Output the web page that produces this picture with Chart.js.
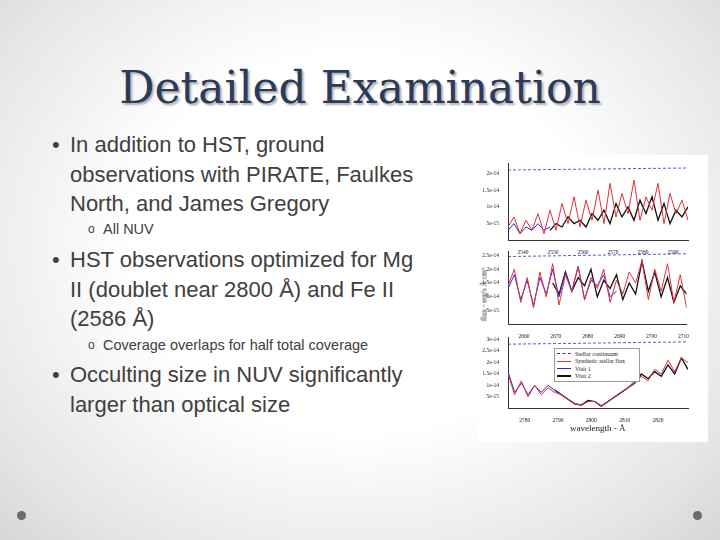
<!DOCTYPE html>
<html>
<head>
<meta charset="utf-8">
<script src="https://cdn.jsdelivr.net/npm/chart.js@4/dist/chart.umd.min.js"></script>
<style>
  body { margin: 0; }
  #slide { position: relative; width: 720px; height: 540px; overflow: hidden;
    background: radial-gradient(ellipse at 50% 45%, #ffffff 45%, #e4e4e4 85%, #d6d6d6 100%);
    font-family: "Liberation Sans", Arial, sans-serif; color: #404040; }
  h1 { position: absolute; left: 0; width: 720px; top: 62px; margin: 0; text-align: center;
    font: 44px "DejaVu Serif", serif; color: #2c3a5c; text-shadow: 2px 2px 2px #b0b0b0; }
  .b { position: absolute; left: 70px; font-size: 22px; line-height: 29.5px; }
  .b::before { content: "•"; position: absolute; left: -18px; }
  .s { position: absolute; left: 103px; font-size: 14.5px; }
  .s::before { content: "o"; position: absolute; left: -15px; font-size: 12px; top: 1px; }
  .dot { position: absolute; width: 9px; height: 9px; border-radius: 50%; background: #6a6a6a; top: 511px; }
  #fig { position: absolute; left: 478px; top: 155px; width: 230px; height: 287px; background: #fff; }
  .pan { position: absolute; left: 4px; width: 208px; }
  #ylab { position: absolute; left: -44px; top: 135px; width: 100px; text-align: center;
    transform: rotate(-90deg); font: 7.5px "Liberation Serif", serif; color: #222; }
  #xlab { position: absolute; left: 92px; top: 268px; font: 9px "Liberation Serif", serif; color: #222; }
  #leg { position: absolute; left: 76px; top: 193px; width: 80px; border: 1px solid #999; background: #fff;
    font: 6px "Liberation Serif", serif; color: #222; padding: 1px 2px; }
  #leg div { display: flex; align-items: center; height: 7.5px; }
  #leg span { display: inline-block; width: 14px; margin-right: 4px; }
</style>
</head>
<body>
<div id="slide">
  <h1>Detailed Examination</h1>
  <div class="b" style="top:130px">In addition to HST, ground<br>observations with PIRATE, Faulkes<br>North, and James Gregory</div>
  <div class="s" style="top:221px">All NUV</div>
  <div class="b" style="top:245px">HST observations optimized for Mg<br>II (doublet near 2800 Å) and Fe II<br>(2586 Å)</div>
  <div class="s" style="top:337px">Coverage overlaps for half total coverage</div>
  <div class="b" style="top:360px">Occulting size in NUV significantly<br>larger than optical size</div>
  <div class="dot" style="left:17px"></div>
  <div class="dot" style="left:693px"></div>
  <div id="fig">
    <div class="pan" style="top:4px;height:98px"><canvas id="c1"></canvas></div>
    <div class="pan" style="top:92px;height:94px"><canvas id="c2"></canvas></div>
    <div class="pan" style="top:178px;height:92px"><canvas id="c3"></canvas></div>
    <div id="ylab">flux - erg/s Å cm²</div>
    <div id="xlab">wavelength - Å</div>
    <div id="leg">
      <div><span style="border-top:1px dashed #3333aa"></span>Stellar continuum</div>
      <div><span style="border-top:1px solid #e0303a"></span>Synthetic stellar flux</div>
      <div><span style="border-top:1px solid #2a2ad0"></span>Visit 1</div>
      <div><span style="border-top:2px solid #111"></span>Visit 2</div>
    </div>
  </div>
</div>
<script>
// flux values in units of 1e-15 erg/s/Å/cm²
const wave1 = [2535,2537,2539,2541,2543,2545,2547,2549,2551,2553,2555,2557,2559,2561,2563,2565,2567,2569,2571,2573,2575,2577,2579,2581,2583,2585,2587,2589,2591,2593,2595];
const red1 = [4,7,2,6,3,8,2,9,3,11,5,13,4,12,6,15,5,17,7,14,8,18,6,13,9,17,5,14,8,12,6];
const blue1 = [3,5,2,4,3,5,3,4,null,null,null,null,null,null,null,null,null,null,null,null,null,null,null,null,null,null,null,null,null,null,null];
const black1 = [null,null,null,null,null,null,null,3,5,4,7,5,6,4,8,6,9,5,11,7,10,6,12,8,13,6,11,5,9,7,10];
const cont1 = [21,21.6];
const ticks1 = [2540,2550,2560,2570,2580,2590];

const wave2 = [2655,2657,2659,2661,2663,2665,2667,2669,2671,2673,2675,2677,2679,2681,2683,2685,2687,2689,2691,2693,2695,2697,2699,2701,2703,2705,2707,2709,2711];
const red2 = [14,20,8,17,6,19,10,22,7,18,12,21,9,17,13,20,8,16,11,19,15,23,9,20,12,22,8,18,6];
const blue2 = [13,18,9,16,7,17,11,20,10,19,12,21,9,16,14,18,10,12,null,null,null,null,null,null,null,null,null,null,null];
const black2 = [null,null,null,null,null,null,null,15,11,19,12,17,14,20,10,16,13,18,9,15,11,23,12,19,10,17,8,14,11];
const cont2 = [24.6,25.6];
const ticks2 = [2660,2670,2680,2690,2700,2710];

const wave3 = [2775,2777,2779,2781,2783,2785,2787,2789,2791,2793,2795,2797,2799,2801,2803,2805,2807,2809,2811,2813,2815,2817,2819,2821,2823,2825,2827,2829];
const red3 = [15,6,12,5,10,6,9,7,6,4,2,1.5,3,3,1,3,5,7,9,11,14,12,17,15,21,16,22,20];
const blue3 = [16,7,11,6,10,7,10,8,6,4,2,1.5,3,3,1,3,5,7,9,12,14,null,null,null,null,null,null,null];
const black3 = [null,null,null,null,null,null,null,8,6,4,2,1.5,3.5,3,1,3,5,7,9,11,15,13,16,14,19,15,22,17];
const cont3 = [28,29];
const ticks3 = [2780,2790,2800,2810,2820];

const yLabels = {5:'5e-15',10:'1e-14',15:'1.5e-14',20:'2e-14',25:'2.5e-14',30:'3e-14'};

function pts(w, v) { return w.map((x, i) => ({x: x, y: v[i]})); }

function panel(id, w, red, blue, black, cont, ticks, ymax) {
  const tickFont = {family: 'Liberation Serif', size: 5.5};
  new Chart(document.getElementById(id), {
    type: 'line',
    data: { datasets: [
      {data: pts(w, red), borderColor: '#e0303a', borderWidth: 1},
      {data: pts(w, blue), borderColor: '#2a2ad0', borderWidth: 1},
      {data: pts(w, black), borderColor: '#111111', borderWidth: 1.3},
      {data: [{x: w[0], y: cont[0]}, {x: w[w.length - 1], y: cont[1]}], borderColor: '#3333aa', borderWidth: 0.8, borderDash: [3, 2]}
    ]},
    options: {
      animation: false, responsive: true, maintainAspectRatio: false,
      elements: {point: {radius: 0}, line: {tension: 0}},
      plugins: {legend: {display: false}, tooltip: {enabled: false}},
      layout: {padding: {right: 2}},
      scales: {
        x: {type: 'linear', min: w[0], max: w[w.length - 1],
          afterBuildTicks: a => { a.ticks = ticks.map(v => ({value: v})); },
          grid: {display: false}, border: {color: '#333'},
          ticks: {font: tickFont, color: '#222', padding: 1, maxRotation: 0, callback: v => String(v)}},
        y: {min: 0, max: ymax,
          afterBuildTicks: a => { a.ticks = [5,10,15,20,25,30].filter(v => v < ymax).map(v => ({value: v})); },
          afterFit: a => { a.width = 26; },
          grid: {display: false}, border: {color: '#333'},
          ticks: {font: tickFont, color: '#222', padding: 1, autoSkip: false, callback: v => yLabels[v]}}
      }
    }
  });
}

panel('c1', wave1, red1, blue1, black1, cont1, ticks1, 23);
panel('c2', wave2, red2, blue2, black2, cont2, ticks2, 26.5);
panel('c3', wave3, red3, blue3, black3, cont3, ticks3, 31);
</script>
</body>
</html>
